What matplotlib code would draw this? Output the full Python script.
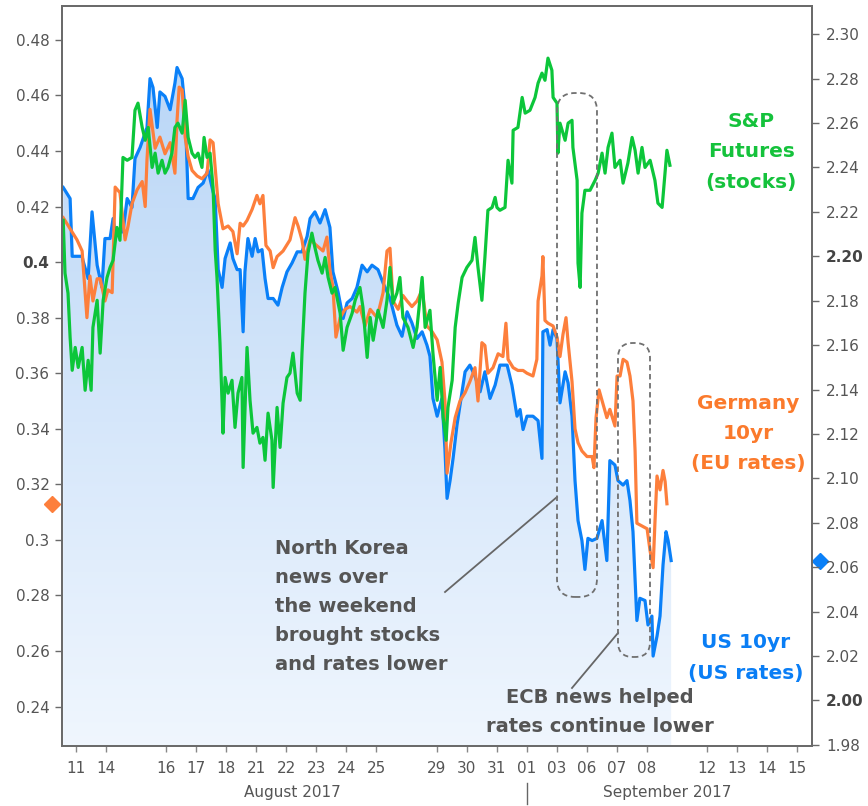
import numpy as np
import matplotlib.pyplot as plt
import matplotlib.transforms as mtransforms
from matplotlib.patches import FancyBboxPatch, Polygon

# trading-day index (0 = Aug 10 2017) -> label
tick_pos = [1, 2, 4, 5, 6, 7, 8, 9, 10, 11, 13, 14, 15, 16, 17, 18, 19, 20, 22, 23, 24, 25]
tick_labels = ["11", "14", "16", "17", "18", "21", "22", "23", "24", "25", "29", "30",
               "31", "01", "03", "06", "07", "08", "12", "13", "14", "15"]

left_ticks = [0.24, 0.26, 0.28, 0.30, 0.32, 0.34, 0.36, 0.38, 0.40, 0.42, 0.44, 0.46, 0.48]
left_labels = ["0.24", "0.26", "0.28", "0.3", "0.32", "0.34", "0.36", "0.38", "0.4",
               "0.42", "0.44", "0.46", "0.48"]
right_ticks = [1.98, 2.00, 2.02, 2.04, 2.06, 2.08, 2.10, 2.12, 2.14, 2.16, 2.18, 2.20,
               2.22, 2.24, 2.26, 2.28, 2.30]
right_labels = ["1.98", "2.00", "2.02", "2.04", "2.06", "2.08", "2.10", "2.12", "2.14",
                "2.16", "2.18", "2.20", "2.22", "2.24", "2.26", "2.28", "2.30"]

# US 10yr yield (right axis)
us_10yr = [
    (0.57, 2.231), (0.80, 2.226), (0.87, 2.200), (1.20, 2.200), (1.23, 2.198), (1.40, 2.190),
    (1.53, 2.220), (1.70, 2.196), (1.86, 2.186), (1.96, 2.208), (2.13, 2.208), (2.23, 2.217),
    (2.30, 2.211), (2.56, 2.211), (2.70, 2.226), (2.86, 2.222), (2.96, 2.244), (3.13, 2.249),
    (3.36, 2.258), (3.46, 2.280), (3.56, 2.276), (3.70, 2.258), (3.79, 2.274), (3.96, 2.272),
    (4.13, 2.266), (4.29, 2.278), (4.36, 2.285), (4.53, 2.280), (4.63, 2.266), (4.73, 2.226),
    (4.89, 2.226), (5.06, 2.231), (5.23, 2.233), (5.39, 2.239), (5.56, 2.229), (5.63, 2.226),
    (5.73, 2.194), (5.86, 2.186), (5.96, 2.199), (6.13, 2.206), (6.22, 2.199), (6.36, 2.194),
    (6.46, 2.194), (6.56, 2.166), (6.62, 2.193), (6.72, 2.208), (6.86, 2.200), (6.96, 2.208),
    (7.06, 2.202), (7.19, 2.203), (7.29, 2.190), (7.39, 2.181), (7.56, 2.181), (7.72, 2.178),
    (7.86, 2.186), (8.02, 2.193), (8.19, 2.197), (8.36, 2.202), (8.52, 2.202), (8.69, 2.209),
    (8.79, 2.217), (8.95, 2.220), (9.12, 2.215), (9.29, 2.221), (9.45, 2.213), (9.55, 2.193),
    (9.72, 2.184), (9.89, 2.172), (10.02, 2.179), (10.19, 2.181), (10.35, 2.186), (10.52, 2.196),
    (10.69, 2.193), (10.85, 2.196), (11.05, 2.194), (11.22, 2.188), (11.45, 2.181), (11.68, 2.169),
    (11.85, 2.164), (12.02, 2.175), (12.18, 2.170), (12.35, 2.163), (12.52, 2.166), (12.68, 2.160),
    (12.78, 2.155), (12.88, 2.136), (13.02, 2.128), (13.18, 2.136), (13.28, 2.113), (13.35, 2.091),
    (13.45, 2.099), (13.55, 2.109), (13.68, 2.124), (13.78, 2.133), (13.95, 2.148), (14.11, 2.151),
    (14.28, 2.146), (14.45, 2.139), (14.61, 2.148), (14.78, 2.136), (14.95, 2.142), (15.11, 2.151),
    (15.35, 2.151), (15.51, 2.142), (15.68, 2.128), (15.78, 2.131), (15.88, 2.122), (16.01, 2.128),
    (16.21, 2.128), (16.38, 2.126), (16.51, 2.109), (16.54, 2.166), (16.68, 2.167), (16.78, 2.160),
    (16.88, 2.167), (17.01, 2.163), (17.11, 2.134), (17.28, 2.148), (17.38, 2.143), (17.51, 2.128),
    (17.61, 2.099), (17.71, 2.081), (17.84, 2.072), (17.94, 2.059), (18.04, 2.073), (18.18, 2.072),
    (18.34, 2.073), (18.51, 2.081), (18.67, 2.063), (18.77, 2.108), (18.94, 2.106), (19.04, 2.099),
    (19.21, 2.097), (19.34, 2.099), (19.44, 2.090), (19.54, 2.076), (19.67, 2.036), (19.77, 2.046),
    (19.94, 2.045), (20.04, 2.034), (20.17, 2.038), (20.21, 2.020), (20.34, 2.029), (20.44, 2.038),
    (20.54, 2.061), (20.64, 2.076), (20.71, 2.072), (20.81, 2.063),
]

# Germany 10yr yield (left axis)
de_10yr = [
    (0.57, 0.416), (0.80, 0.412), (1.03, 0.408), (1.20, 0.404), (1.30, 0.389), (1.36, 0.380),
    (1.46, 0.395), (1.56, 0.386), (1.70, 0.394), (1.80, 0.394), (1.96, 0.386), (2.06, 0.390),
    (2.20, 0.389), (2.30, 0.427), (2.46, 0.425), (2.56, 0.415), (2.63, 0.408), (2.73, 0.413),
    (2.86, 0.421), (3.03, 0.426), (3.20, 0.429), (3.30, 0.420), (3.36, 0.437), (3.46, 0.455),
    (3.63, 0.441), (3.79, 0.445), (3.96, 0.439), (4.13, 0.443), (4.29, 0.432), (4.36, 0.451),
    (4.43, 0.463), (4.53, 0.462), (4.63, 0.445), (4.73, 0.438), (4.86, 0.433), (5.03, 0.431),
    (5.19, 0.430), (5.36, 0.432), (5.46, 0.444), (5.56, 0.443), (5.63, 0.434), (5.73, 0.421),
    (5.89, 0.412), (6.06, 0.413), (6.22, 0.411), (6.36, 0.403), (6.46, 0.414), (6.56, 0.413),
    (6.69, 0.415), (6.86, 0.419), (7.02, 0.424), (7.12, 0.421), (7.22, 0.424), (7.32, 0.406),
    (7.46, 0.404), (7.56, 0.398), (7.69, 0.402), (7.89, 0.404), (8.12, 0.408), (8.29, 0.416),
    (8.39, 0.413), (8.52, 0.408), (8.62, 0.401), (8.79, 0.408), (9.22, 0.404), (9.35, 0.409),
    (9.45, 0.397), (9.55, 0.391), (9.65, 0.373), (9.79, 0.380), (9.95, 0.383), (10.12, 0.384),
    (10.35, 0.382), (10.45, 0.384), (10.62, 0.377), (10.79, 0.383), (11.02, 0.380), (11.22, 0.389),
    (11.35, 0.404), (11.45, 0.405), (11.55, 0.386), (11.72, 0.383), (11.88, 0.388), (12.02, 0.386),
    (12.18, 0.384), (12.35, 0.386), (12.52, 0.390), (12.68, 0.377), (12.85, 0.375), (13.02, 0.372),
    (13.18, 0.364), (13.28, 0.350), (13.35, 0.324), (13.48, 0.335), (13.62, 0.344), (13.78, 0.350),
    (13.95, 0.353), (14.11, 0.357), (14.28, 0.362), (14.38, 0.350), (14.51, 0.371), (14.61, 0.370),
    (14.71, 0.360), (14.88, 0.362), (15.05, 0.367), (15.21, 0.366), (15.31, 0.378), (15.38, 0.365),
    (15.55, 0.362), (15.71, 0.361), (15.88, 0.361), (16.01, 0.360), (16.21, 0.359), (16.34, 0.365),
    (16.38, 0.386), (16.51, 0.395), (16.54, 0.402), (16.61, 0.379), (16.71, 0.378), (16.88, 0.377),
    (17.01, 0.373), (17.11, 0.366), (17.21, 0.374), (17.31, 0.380), (17.38, 0.371), (17.51, 0.357),
    (17.61, 0.340), (17.71, 0.335), (17.84, 0.332), (18.01, 0.330), (18.18, 0.330), (18.24, 0.326),
    (18.31, 0.344), (18.41, 0.354), (18.54, 0.349), (18.67, 0.344), (18.77, 0.347), (18.94, 0.341),
    (19.01, 0.359), (19.11, 0.359), (19.21, 0.365), (19.34, 0.364), (19.44, 0.359), (19.54, 0.350),
    (19.61, 0.332), (19.67, 0.306), (19.84, 0.305), (20.01, 0.304), (20.11, 0.296), (20.21, 0.290),
    (20.27, 0.306), (20.34, 0.323), (20.44, 0.318), (20.54, 0.325), (20.61, 0.321), (20.67, 0.313),
]

# S&P futures (hidden axis, index points)
spx = [
    (0.57, 2456.9), (0.63, 2449.5), (0.73, 2446.7), (0.80, 2440.5), (0.87, 2435.9), (0.97, 2439.1),
    (1.07, 2436.3), (1.20, 2439.1), (1.30, 2433.1), (1.40, 2437.3), (1.50, 2433.1), (1.56, 2441.9),
    (1.70, 2445.7), (1.80, 2438.3), (1.90, 2445.7), (2.03, 2448.9), (2.13, 2450.3), (2.23, 2451.3),
    (2.36, 2455.9), (2.46, 2454.1), (2.56, 2465.7), (2.70, 2465.3), (2.86, 2465.7), (2.96, 2472.3),
    (3.06, 2473.3), (3.20, 2469.9), (3.30, 2468.1), (3.40, 2469.9), (3.53, 2464.3), (3.63, 2466.3),
    (3.73, 2463.5), (3.86, 2465.3), (3.96, 2463.5), (4.06, 2464.3), (4.19, 2466.3), (4.29, 2469.9),
    (4.39, 2470.5), (4.53, 2469.1), (4.63, 2473.7), (4.73, 2468.5), (4.86, 2466.3), (4.96, 2465.7),
    (5.06, 2466.3), (5.19, 2464.3), (5.26, 2468.5), (5.36, 2465.7), (5.46, 2466.3), (5.56, 2461.5),
    (5.63, 2452.7), (5.69, 2448.9), (5.79, 2439.7), (5.86, 2431.3), (5.89, 2427.1), (5.96, 2434.9),
    (6.06, 2432.7), (6.19, 2434.5), (6.29, 2427.9), (6.39, 2432.7), (6.52, 2434.9), (6.56, 2422.3),
    (6.69, 2439.1), (6.79, 2431.7), (6.89, 2427.1), (7.02, 2427.9), (7.12, 2425.7), (7.22, 2426.5),
    (7.29, 2423.3), (7.39, 2429.9), (7.52, 2426.1), (7.56, 2419.5), (7.69, 2430.7), (7.79, 2425.1),
    (7.89, 2431.3), (8.02, 2434.9), (8.12, 2435.5), (8.22, 2438.3), (8.36, 2432.7), (8.46, 2431.7),
    (8.52, 2438.3), (8.62, 2446.7), (8.72, 2452.3), (8.85, 2455.1), (8.95, 2453.1), (9.05, 2451.3),
    (9.19, 2449.5), (9.29, 2451.7), (9.39, 2448.9), (9.52, 2446.7), (9.62, 2447.5), (9.79, 2443.9),
    (9.89, 2438.7), (10.02, 2441.9), (10.19, 2443.9), (10.29, 2445.7), (10.45, 2447.5), (10.55, 2444.7),
    (10.69, 2437.7), (10.79, 2443.3), (10.89, 2440.1), (11.05, 2444.3), (11.22, 2441.9), (11.35, 2445.7),
    (11.45, 2450.3), (11.55, 2445.3), (11.68, 2446.7), (11.78, 2448.9), (11.88, 2443.3), (12.05, 2441.9),
    (12.22, 2439.1), (12.35, 2441.9), (12.52, 2448.9), (12.62, 2441.9), (12.78, 2444.3), (12.88, 2438.3),
    (13.02, 2431.7), (13.12, 2436.3), (13.22, 2429.3), (13.32, 2426.1), (13.38, 2430.7), (13.52, 2434.5),
    (13.62, 2441.9), (13.72, 2445.3), (13.85, 2448.9), (14.01, 2450.3), (14.18, 2451.3), (14.28, 2454.5),
    (14.38, 2450.3), (14.51, 2445.7), (14.61, 2451.7), (14.71, 2458.3), (14.85, 2458.7), (14.95, 2460.1),
    (15.01, 2458.7), (15.11, 2458.3), (15.28, 2458.7), (15.38, 2465.3), (15.51, 2462.1), (15.55, 2469.5),
    (15.71, 2469.9), (15.85, 2474.1), (15.95, 2471.9), (16.11, 2472.3), (16.28, 2474.1), (16.38, 2476.1),
    (16.51, 2477.5), (16.61, 2476.5), (16.71, 2479.6), (16.84, 2477.9), (16.88, 2474.1), (17.01, 2473.3),
    (17.04, 2466.3), (17.11, 2470.5), (17.28, 2468.1), (17.38, 2470.5), (17.51, 2470.9), (17.54, 2467.1),
    (17.68, 2462.5), (17.71, 2450.9), (17.78, 2447.5), (17.84, 2457.9), (17.94, 2461.1), (18.11, 2461.1),
    (18.28, 2462.5), (18.38, 2463.5), (18.51, 2466.3), (18.61, 2463.5), (18.71, 2467.1), (18.84, 2469.1),
    (18.94, 2464.3), (19.11, 2465.3), (19.21, 2462.1), (19.37, 2464.9), (19.51, 2468.5), (19.61, 2466.7),
    (19.71, 2463.5), (19.84, 2467.1), (19.94, 2464.3), (20.11, 2465.3), (20.27, 2462.5), (20.37, 2459.3),
    (20.51, 2458.7), (20.67, 2466.7), (20.77, 2464.6),
]

BLUE = "#0a80f8"
ORANGE = "#fd7f3c"
GREEN = "#0cc63a"
GRAY = "#555555"

us_t, us_y = np.array(us_10yr).T
de_t, de_y = np.array(de_10yr).T
sp_t, sp_y = np.array(spx).T

fig = plt.figure(figsize=(8.68, 8.06), dpi=100)
ax = fig.add_axes([62 / 868, 60 / 806, 750 / 868, 740 / 806])
ax2 = ax.twinx()
ax3 = ax.twinx()
ax3.axis("off")

# gradient fill under the US line
grad = np.linspace(0, 1, 256).reshape(-1, 1)
top = np.array([0.71, 0.83, 0.965])
bot = np.array([0.94, 0.965, 0.995])
img = (top + (bot - top) * grad).reshape(256, 1, 3)
im = ax.imshow(img, extent=[0, 1, 0, 1], transform=ax.transAxes,
               aspect="auto", zorder=0.5, interpolation="bilinear")
verts = list(zip(us_t, us_y)) + [(us_t[-1], 1.9), (us_t[0], 1.9)]
clip = Polygon(verts, closed=True, transform=ax2.transData)
im.set_clip_path(clip)

ax.plot(us_t, us_y, color=BLUE, lw=2.3, transform=ax2.transData, zorder=2)
ax.plot(de_t, de_y, color=ORANGE, lw=2.3, zorder=3)
ax.plot(sp_t, sp_y, color=GREEN, lw=2.3, transform=ax3.transData, zorder=4)

ax.set_xlim(0.53, 25.5)
ax.set_ylim(0.2258, 0.4922)
ax2.set_ylim(1.9795, 2.3127)
ax3.set_ylim(2383.3, 2486.9)

ax.set_xticks(tick_pos)
ax.set_xticklabels(tick_labels)
ax.set_yticks(left_ticks)
ax.set_yticklabels(left_labels)
ax2.set_yticks(right_ticks)
ax2.set_yticklabels(right_labels)

for a in (ax, ax2):
    for s in a.spines.values():
        s.set_color("#6a6a6a")
        s.set_linewidth(1.3)
ax.tick_params(axis="x", length=4, width=1, color="#888888", labelsize=11,
               labelcolor=GRAY, pad=7)
ax.tick_params(axis="y", length=5, width=1, color="#6a6a6a", labelsize=11,
               labelcolor=GRAY, pad=4)
ax2.tick_params(axis="y", length=5, width=1, color="#6a6a6a", labelsize=11,
                labelcolor=GRAY, pad=5)
for lab in ax.get_yticklabels():
    if lab.get_text() == "0.4":
        lab.set_fontweight("bold")
        lab.set_color("#444444")
for lab in ax2.get_yticklabels():
    if lab.get_text() in ("2.20", "2.00"):
        lab.set_fontweight("bold")
        lab.set_color("#444444")

# month labels under the axis
bt = mtransforms.blended_transform_factory(ax.transData, ax.transAxes)
ax.text(8.19, -0.0635, "August 2017", transform=bt, ha="center", va="center",
        fontsize=11, color=GRAY)
ax.text(20.67, -0.0635, "September 2017", transform=bt, ha="center", va="center",
        fontsize=11, color=GRAY)
ax.plot([16, 16], [-0.05, -0.078], transform=bt, color="#666666", lw=1, clip_on=False)

# last-value diamonds
ax.plot([-0.0133], [de_y[-1]], marker="D", ms=8, color=ORANGE, clip_on=False,
        transform=mtransforms.blended_transform_factory(ax.transAxes, ax.transData))
ax.plot([1.0107], [us_y[-1]], marker="D", ms=8, color=BLUE, clip_on=False,
        transform=mtransforms.blended_transform_factory(ax.transAxes, ax2.transData))

# series labels
ax.text(0.919, 0.803, "S&P\nFutures\n(stocks)", transform=ax.transAxes, ha="center",
        va="center", fontsize=14.5, fontweight="bold", color="#15c23c", linespacing=1.75)
ax.text(0.915, 0.422, "Germany\n10yr\n(EU rates)", transform=ax.transAxes, ha="center",
        va="center", fontsize=14.5, fontweight="bold", color="#fb7a2c", linespacing=1.75)
ax.text(0.911, 0.119, "US 10yr\n(US rates)", transform=ax.transAxes, ha="center",
        va="center", fontsize=14.5, fontweight="bold", color="#0a7ef5", linespacing=1.8)

# commentary
ax.text(0.284, 0.1885, "North Korea\nnews over\nthe weekend\nbrought stocks\nand rates lower",
        transform=ax.transAxes, ha="left", va="center", fontsize=14, fontweight="bold",
        color=GRAY, linespacing=1.68)
ax.text(0.717, 0.046, "ECB news helped\nrates continue lower", transform=ax.transAxes,
        ha="center", va="center", fontsize=14, fontweight="bold", color=GRAY, linespacing=1.68)

ax.plot([0.5107, 0.66], [0.2081, 0.3365], transform=ax.transAxes, color="#666666", lw=1.3)
ax.plot([0.68, 0.7413], [0.0784, 0.1527], transform=ax.transAxes, color="#666666", lw=1.3)

aspect = 750 / 740
for x0, y0, w, h, r in [(0.66, 0.2014, 0.0533, 0.681, 0.024),
                        (0.7413, 0.1203, 0.0427, 0.4243, 0.02)]:
    box = FancyBboxPatch((x0, y0), w, h, boxstyle=f"round,pad=0,rounding_size={r}",
                         mutation_aspect=aspect, transform=ax.transAxes, fill=False,
                         edgecolor="#707070", lw=1.3, linestyle=(0, (3, 2)), zorder=5)
    ax.add_patch(box)

fig.savefig("out.png", dpi=100)
